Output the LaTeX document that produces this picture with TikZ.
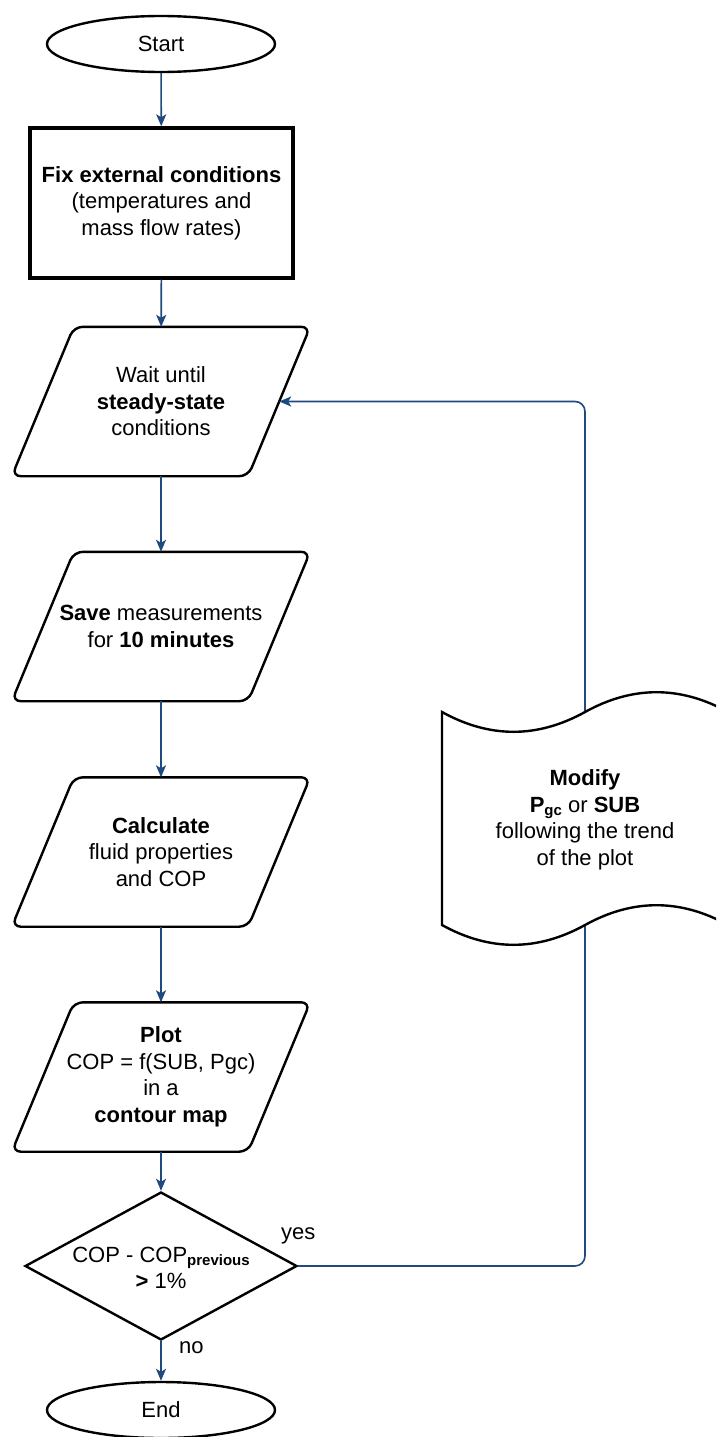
\documentclass[tikz,border=0pt]{standalone}
\usepackage{fontspec}
\setmainfont{Liberation Sans}
\usetikzlibrary{shapes.geometric,arrows.meta,calc}
\definecolor{flowblue}{RGB}{31,74,126}
\newcommand\smallsub[1]{\raisebox{-0.3ex}{\fontsize{15}{15}\selectfont #1}}
% slanted input/output outline drawn around a named box
\newcommand\iooutline[1]{%
  \draw[shapeline, rounded corners=9pt]
    ([xshift=62pt]#1.north west) -- (#1.north east)
    -- ([xshift=-62pt]#1.south east) -- (#1.south west) -- cycle;}
\begin{document}
\begin{tikzpicture}[x=1pt,y=-1pt,
  every node/.style={font=\fontsize{22}{26.5}\selectfont, align=center, inner sep=0pt},
  shapeline/.style={draw=black, line width=2.4pt},
  terminal/.style={shapeline, fill=white, ellipse, minimum width=228, minimum height=56},
  procbox/.style={shapeline, fill=white, rectangle, line width=3.4pt, minimum width=263, minimum height=150},
  iobox/.style={rectangle, minimum width=298, minimum height=149},
  decision/.style={shapeline, fill=white, diamond, minimum width=272, minimum height=148},
  flow/.style={draw=flowblue, line width=1.6pt, -{Stealth[length=12pt,width=10pt,inset=3pt]}},
  lbl/.style={font=\fontsize{22}{26.5}\selectfont}
]
\clip (0,0) rectangle (716,1437);
\fill[white] (0,0) rectangle (716,1437);

% main column
\node[terminal] (start) at (161,44) {Start};
\node[procbox] (fix) at (161.5,203) {\textbf{Fix external conditions}\\(temperatures and\\mass flow rates)};
\node[iobox] (wait) at (161,401.5) {Wait until\\\textbf{steady-state}\\conditions};
\node[iobox] (save) at (161,626.5) {\textbf{Save} measurements\\for \textbf{10 minutes}};
\node[iobox] (calc) at (161,852) {\textbf{Calculate}\\fluid properties\\and COP};
\node[iobox] (plot) at (161,1077) {\textbf{Plot}\\COP = f(SUB, Pgc)\\in a\\\textbf{contour map}};
\iooutline{wait}
\iooutline{save}
\iooutline{calc}
\iooutline{plot}
\node[decision] (dec) at (161,1266) {};
\node (dectext) at (161,1268) {COP - COP\smallsub{\textbf{previous}}\\\textbf{>} 1\%};
\node[terminal] (end) at (161,1410) {End};

% midpoint of the slanted right side of the waiting step
\coordinate (waitR) at ($(wait.north east)!0.5!([xshift=-62pt]wait.south east)$);

% vertical connectors
\draw[flow] (start) -- (fix);
\draw[flow] (fix) -- (wait);
\draw[flow] (wait) -- (save);
\draw[flow] (save) -- (calc);
\draw[flow] (calc) -- (plot);
\draw[flow] (plot) -- (dec);
\draw[flow] (dec) -- (end);

% feedback loop back to the waiting step
\coordinate (loopx) at (585,0);
\draw[flow, rounded corners=10pt] (dec.east) -- (dec.east -| loopx) |- (waitR);

% tape-shaped step sitting on top of the loop line
\draw[shapeline, fill=white]
  (442,712) .. controls (489.7,738.4) and (537.3,738.4) .. (585,712)
            .. controls (632.7,685.6) and (680.3,685.6) .. (728,712)
  -- (728,925)
            .. controls (680.3,898.6) and (632.7,898.6) .. (585,925)
            .. controls (537.3,951.4) and (489.7,951.4) .. (442,925)
  -- cycle;
\node (mod) at (585,820) {\textbf{Modify}\\\textbf{P}\smallsub{\textbf{gc}} or \textbf{SUB}\\following the trend\\of the plot};

% branch labels
\node[lbl, anchor=west] (yes) at (281,1236) {yes};
\node[lbl, anchor=west] (no) at (179,1348) {no};
\end{tikzpicture}
\end{document}
